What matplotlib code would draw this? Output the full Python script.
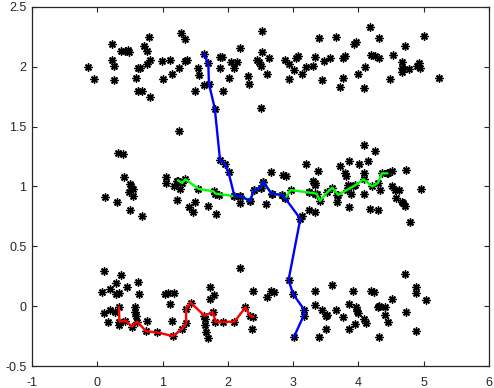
import numpy as np
from matplotlib import pyplot as plt

plt.rcParams['font.family'] = ['Liberation Sans', 'DejaVu Sans']

# scattered points (not on a path)
top_x = [-0.14, -0.05, 0.22, 0.22, 0.25, 0.25, 0.37, 0.42, 0.47, 0.49, 0.79, 0.72, 0.76, 0.80, 0.76,
         0.63, 0.66, 0.60, 0.63, 0.68, 0.80, 0.995, 1.12, 1.01, 1.14, 1.25, 1.28, 1.35, 1.34, 1.38,
         1.55, 1.56, 1.50, 1.64, 1.88, 1.91, 1.88, 1.93, 2.19, 2.05, 2.14, 2.09, 2.01, 2.31, 2.32,
         2.52, 2.53, 2.63, 2.45, 2.48, 2.50, 2.60, 2.87, 2.94, 3.01, 3.04, 3.08, 3.19, 3.30, 3.33,
         3.13, 2.93, 3.40, 3.66, 3.47, 3.57, 3.77, 3.79, 3.93, 3.96, 3.44, 3.77, 3.71, 4.17, 4.31,
         5.01, 4.72, 4.19, 4.26, 4.32, 4.53, 4.10, 3.99, 4.08, 4.48, 4.67, 4.67, 4.69, 4.77, 4.67,
         4.92, 4.94, 4.90, 5.24, 2.51, 1.25]
top_y = [2.00, 1.90, 2.19, 2.06, 2.01, 1.89, 2.13, 2.13, 2.14, 2.12, 2.25, 2.17, 2.13, 2.06, 2.02,
         1.99, 1.99, 1.91, 1.80, 1.80, 1.75, 2.05, 2.06, 1.90, 1.94, 1.99, 2.28, 2.23, 2.05, 2.06,
         1.99, 1.93, 1.80, 1.85, 2.08, 2.08, 1.99, 1.80, 2.16, 2.04, 2.04, 1.99, 1.91, 1.92, 1.86,
         2.30, 2.12, 2.07, 2.06, 2.04, 2.01, 1.94, 2.06, 2.02, 1.97, 2.07, 2.09, 2.00, 2.01, 2.08,
         1.94, 1.90, 2.24, 2.25, 2.05, 2.07, 2.07, 2.09, 2.19, 2.21, 1.89, 1.91, 1.83, 2.33, 2.24,
         2.26, 2.17, 2.10, 2.09, 2.07, 2.10, 2.00, 1.94, 1.82, 1.90, 2.04, 1.99, 1.98, 1.98, 1.96,
         2.03, 1.99, 2.01, 1.91, 1.66, 1.46]

mid_x = [0.32, 0.39, 0.41, 0.50, 0.52, 0.55, 0.49, 0.55, 0.12, 0.30, 0.50, 0.68, 1.05, 1.06, 1.17,
         1.22, 1.26, 1.22, 1.49, 1.40, 1.46, 1.70, 1.82, 1.86, 2.19, 2.58, 2.68, 2.66, 2.84, 2.89,
         3.19, 3.38, 3.72, 3.85, 4.01, 4.15, 4.08, 4.25, 3.80, 3.81, 4.09, 3.30, 3.33, 3.34, 3.84,
         3.91, 4.46, 4.51, 4.73, 4.33, 4.52, 4.56, 4.62, 4.96, 4.57, 4.66, 4.71, 4.69, 3.25, 3.34,
         3.67, 3.67, 3.89, 4.08, 3.86, 4.18, 4.30, 3.24, 3.33, 3.13, 4.79]
mid_y = [1.28, 1.27, 1.08, 1.02, 1.00, 0.98, 0.95, 0.92, 0.91, 0.87, 0.80, 0.75, 1.08, 1.03, 1.00,
         1.05, 0.98, 0.89, 0.87, 0.83, 0.79, 0.84, 0.77, 0.93, 0.86, 0.85, 0.94, 1.12, 1.10, 1.09,
         1.19, 1.13, 1.17, 1.21, 1.19, 1.21, 1.35, 1.30, 1.11, 1.09, 1.11, 1.05, 1.03, 1.01, 1.01,
         1.00, 1.11, 1.13, 1.14, 0.97, 1.00, 0.97, 0.97, 0.98, 0.90, 0.87, 0.84, 0.86, 0.95, 0.94,
         0.93, 0.87, 0.94, 0.94, 0.83, 0.81, 0.80, 0.80, 0.79, 0.75, 0.70]

bot_x = [0.11, 0.36, 0.29, 0.62, 0.46, 0.07, 0.20, 0.28, 0.33, 0.64, 1.04, 1.09, 1.17, 1.12, 1.72,
         1.78, 1.73, 2.19, 2.38, 2.60, 2.66, 2.70, 0.11, 0.19, 0.27, 0.16, 0.33, 0.57, 0.58, 0.60,
         0.76, 1.14, 1.65, 1.65, 1.67, 1.69, 2.37, 3.33, 3.59, 3.92, 4.20, 4.24, 4.51, 4.72, 4.88,
         4.88, 5.03, 3.33, 3.44, 3.52, 3.50, 3.65, 3.77, 3.86, 3.96, 3.98, 3.99, 4.08, 4.11, 3.94,
         3.86, 3.50, 3.39, 4.30, 4.32, 4.41, 4.40, 4.46, 4.73, 4.32, 4.88]
bot_y = [0.29, 0.26, 0.19, 0.20, 0.16, 0.12, 0.14, 0.10, 0.11, 0.10, 0.10, 0.11, 0.11, 0.02, 0.16,
         0.09, 0.06, 0.32, 0.13, 0.08, 0.13, 0.12, -0.06, -0.03, -0.05, -0.13, -0.16, -0.01, -0.05, -0.08,
         -0.12, -0.12, -0.11, -0.16, -0.22, -0.27, -0.19, 0.13, 0.18, 0.13, 0.13, 0.12, 0.06, 0.27, 0.16,
         0.11, 0.05, 0.01, -0.03, -0.07, -0.08, -0.03, -0.09, 0.02, -0.01, -0.04, -0.06, -0.11, -0.14, -0.15,
         -0.19, -0.19, -0.26, -0.01, 0.00, -0.01, -0.07, -0.13, -0.05, -0.26, -0.21]

# paths through the points
blue_x = [1.63, 1.70, 1.71, 1.80, 1.88, 1.95, 2.01, 2.10, 2.19, 2.34, 2.40, 2.50, 2.54, 2.67, 2.83,
          2.88, 3.11, 2.93, 3.00, 3.17, 3.16, 3.01]
blue_y = [2.11, 2.03, 1.86, 1.65, 1.22, 1.19, 1.12, 0.92, 0.92, 0.88, 0.97, 0.99, 1.04, 0.94, 0.93,
          0.90, 0.73, 0.22, 0.10, -0.03, -0.08, -0.26]

green_x = [1.24, 1.30, 1.35, 1.55, 1.78, 1.81, 2.10, 2.19, 2.34, 2.40, 2.50, 2.54, 2.67, 2.83, 2.88,
           2.96, 3.24, 3.36, 3.41, 3.52, 3.60, 3.69, 3.82, 3.95, 4.08, 4.21, 4.30, 4.36, 4.44]
green_y = [1.05, 1.03, 1.06, 0.98, 0.96, 0.94, 0.92, 0.92, 0.88, 0.97, 0.99, 1.04, 0.94, 0.93, 0.90,
           0.97, 0.95, 0.94, 0.88, 0.95, 0.99, 0.93, 0.97, 1.01, 1.06, 1.00, 1.03, 1.11, 1.11]

red_x = [0.33, 0.34, 0.43, 0.53, 0.61, 0.75, 0.92, 1.16, 1.30, 1.36, 1.36, 1.43, 1.64, 1.77, 1.81,
         1.93, 2.10, 2.27, 2.34, 2.39]
red_y = [-0.01, -0.13, -0.12, -0.17, -0.13, -0.21, -0.22, -0.25, -0.19, -0.14, -0.02, 0.03, -0.08, -0.05, -0.13,
         -0.13, -0.13, -0.01, -0.08, -0.09]

all_x = top_x + mid_x + bot_x + blue_x + green_x + red_x
all_y = top_y + mid_y + bot_y + blue_y + green_y + red_y

fig = plt.figure(figsize=(4.94, 3.88), dpi=100)
ax = fig.add_axes([0.0648, 0.0567, 0.9251, 0.9253])

ax.plot(all_x, all_y, ls='none', marker=(8, 2, 0), ms=5.8, mew=1.0, color='k', zorder=2)
ax.plot(green_x, green_y, color=(0, 1, 0), lw=1.7, zorder=3)
ax.plot(blue_x, blue_y, color=(0, 0, 1), lw=1.7, zorder=4)
ax.plot(red_x, red_y, color=(1, 0, 0), lw=1.7, zorder=3)

ax.set_xlim(-1, 6)
ax.set_ylim(-0.5, 2.5)
ax.set_xticks(np.arange(-1, 7, 1))
ax.set_yticks(np.arange(-0.5, 2.6, 0.5))
ax.set_xticklabels(['-1', '0', '1', '2', '3', '4', '5', '6'])
ax.set_yticklabels(['-0.5', '0', '0.5', '1', '1.5', '2', '2.5'])
ax.tick_params(direction='in', top=True, right=True, length=3.5, width=0.8, color='#262626',
               labelsize=9, labelcolor='#262626')
ax.tick_params(axis='x', pad=8)
ax.tick_params(axis='y', pad=4)
for s in ax.spines.values():
    s.set_linewidth(0.9)
    s.set_color('#262626')

fig.savefig('out.png', dpi=100)
